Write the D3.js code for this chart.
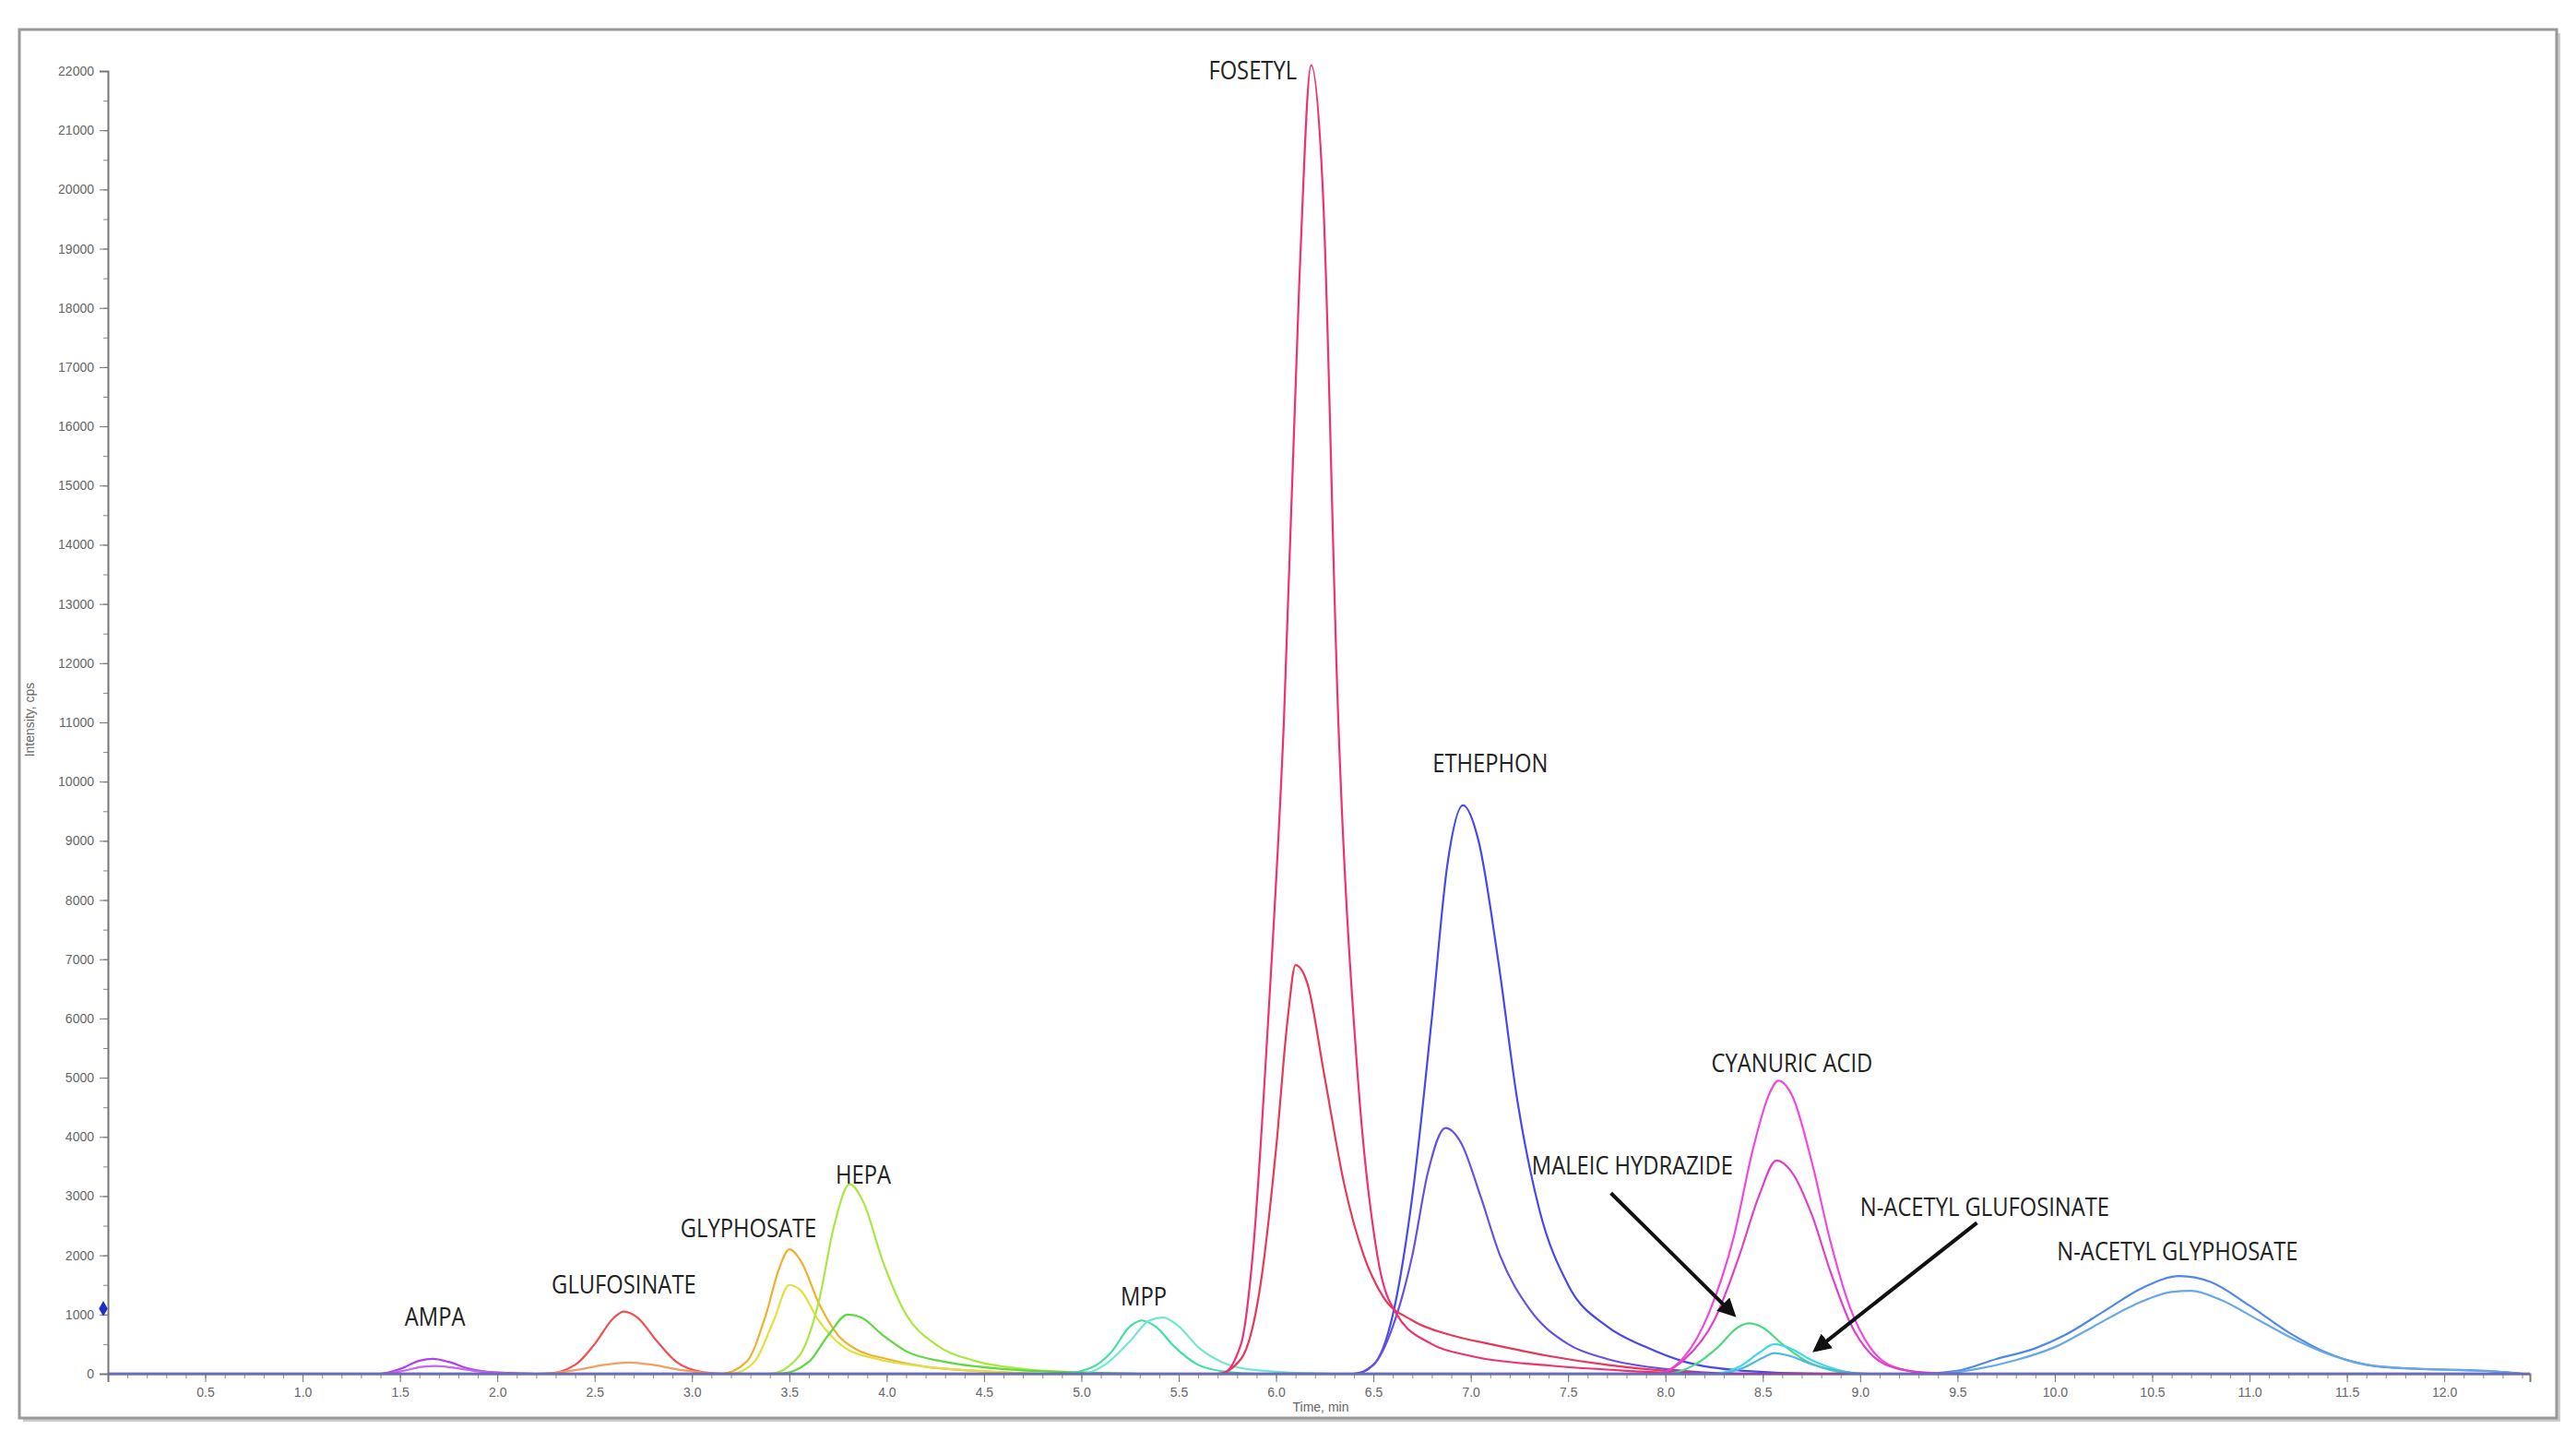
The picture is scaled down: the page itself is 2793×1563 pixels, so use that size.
<!DOCTYPE html>
<html>
<head>
<meta charset="utf-8">
<script src="https://cdn.jsdelivr.net/npm/d3@7"></script>
<style>
  body { margin: 0; background: #fff; }
  .tick text { fill: #666; font-family: "Liberation Sans", Arial, sans-serif; }
  .lbl { font-family: "Open Sans", Arial, sans-serif; font-size: 27px; fill: #222; }
</style>
</head>
<body>
<div id="box"></div>
<script>
const width = 2793, height = 1563;

// peak labels
const labels = ['AMPA', 'GLUFOSINATE', 'GLYPHOSATE', 'HEPA', 'MPP', 'FOSETYL', 'ETHEPHON',
  'MALEIC HYDRAZIDE', 'CYANURIC ACID', 'N-ACETYL GLUFOSINATE', 'N-ACETYL GLYPHOSATE'];
const labelTime = [1.68, 2.65, 3.29, 3.88, 5.32, 5.88, 7.1, 7.83, 8.65, 9.64, 10.63];
const labelValue = [950, 1500, 2450, 3350, 1300, 22000, 10300, 3500, 5230, 2800, 2050];

// traces: [time, cps]
const ampa1 = [[0,0],[1.4,0],[1.5,80],[1.6,220],[1.67,250],[1.75,200],[1.85,90],[2.0,20],[2.2,0],[12.4,0]];
const ampa2 = [[0,0],[1.4,0],[1.52,50],[1.62,120],[1.68,130],[1.78,100],[1.9,40],[2.05,10],[2.2,0],[12.4,0]];
const gluf1 = [[0,0],[2.25,0],[2.4,150],[2.5,500],[2.6,950],[2.65,1050],[2.72,950],[2.82,550],[2.92,200],[3.05,30],[3.15,0],[12.4,0]];
const gluf2 = [[0,0],[2.2,0],[2.4,60],[2.55,150],[2.68,190],[2.8,150],[2.95,60],[3.1,10],[3.2,0],[12.4,0]];
const glyp1 = [[0,0],[3.15,0],[3.28,200],[3.38,1000],[3.45,1800],[3.5,2100],[3.56,1900],[3.65,1200],[3.75,650],[3.85,400],[4.0,250],[4.2,120],[4.5,40],[4.8,0],[12.4,0]];
const glyp2 = [[0,0],[3.2,0],[3.32,200],[3.42,900],[3.5,1500],[3.56,1400],[3.65,900],[3.78,450],[3.95,250],[4.2,120],[4.5,40],[4.8,0],[12.4,0]];
const hepa1 = [[0,0],[3.4,0],[3.55,300],[3.65,1200],[3.73,2500],[3.81,3200],[3.88,2900],[3.98,1900],[4.1,1000],[4.25,500],[4.45,220],[4.7,80],[5.0,20],[5.3,0],[12.4,0]];
const hepa2 = [[0,0],[3.45,0],[3.6,200],[3.7,650],[3.8,1000],[3.87,950],[3.98,650],[4.1,380],[4.3,200],[4.6,80],[5.0,20],[5.3,0],[12.4,0]];
const mpp1 = [[0,0],[4.9,0],[5.05,100],[5.15,350],[5.25,800],[5.31,900],[5.38,800],[5.48,450],[5.6,150],[5.75,30],[5.9,0],[12.4,0]];
const mpp2 = [[0,0],[5.0,0],[5.12,150],[5.25,550],[5.35,900],[5.42,950],[5.5,800],[5.6,450],[5.72,200],[5.9,60],[6.3,0],[12.4,0]];
const fos1 = [[0,0],[5.72,0],[5.82,500],[5.88,2000],[5.96,6000],[6.04,11000],[6.12,18500],[6.18,22100],[6.24,20000],[6.32,11000],[6.42,5000],[6.52,2000],[6.62,1000],[6.8,500],[7.0,300],[7.4,140],[7.8,50],[8.2,0],[12.4,0]];
const fos2 = [[0,0],[5.7,0],[5.82,250],[5.92,1500],[6.0,3800],[6.06,6000],[6.1,6900],[6.16,6600],[6.25,5000],[6.35,3200],[6.45,2000],[6.55,1300],[6.7,900],[6.9,650],[7.1,500],[7.4,300],[7.7,150],[8.0,50],[8.3,0],[12.4,0]];
const eth1 = [[0,0],[6.4,0],[6.5,150],[6.6,1000],[6.7,3000],[6.8,6000],[6.88,8600],[6.96,9600],[7.04,9000],[7.14,7000],[7.24,4600],[7.35,2800],[7.5,1500],[7.7,800],[7.9,450],[8.1,200],[8.4,50],[8.8,0],[12.4,0]];
const eth2 = [[0,0],[6.4,0],[6.5,150],[6.6,800],[6.7,2000],[6.78,3400],[6.87,4150],[6.95,3900],[7.05,3000],[7.15,2000],[7.3,1100],[7.5,500],[7.7,250],[8.0,80],[8.4,0],[12.4,0]];
const cya1 = [[0,0],[7.95,0],[8.1,300],[8.22,1000],[8.35,2300],[8.45,3800],[8.53,4700],[8.58,4950],[8.65,4700],[8.75,3600],[8.85,2200],[8.95,1100],[9.05,450],[9.15,150],[9.3,30],[9.5,0],[12.4,0]];
const cya2 = [[0,0],[7.95,0],[8.1,250],[8.25,900],[8.38,2000],[8.48,3000],[8.57,3600],[8.65,3400],[8.75,2700],[8.85,1700],[8.95,850],[9.05,350],[9.2,80],[9.4,0],[12.4,0]];
const mal = [[0,0],[8.0,0],[8.15,150],[8.27,450],[8.37,780],[8.43,850],[8.5,780],[8.6,500],[8.72,220],[8.85,60],[9.0,0],[12.4,0]];
const nag1 = [[0,0],[8.25,0],[8.38,120],[8.48,350],[8.56,500],[8.64,430],[8.75,230],[8.88,70],[9.0,0],[12.4,0]];
const nag2 = [[0,0],[8.28,0],[8.4,100],[8.5,270],[8.56,350],[8.64,300],[8.75,160],[8.9,40],[9.05,0],[12.4,0]];
const ngl1 = [[0,0],[9.3,0],[9.5,50],[9.7,250],[9.9,430],[10.05,650],[10.25,1050],[10.45,1450],[10.64,1650],[10.8,1550],[11.0,1150],[11.2,700],[11.4,350],[11.6,150],[11.8,90],[12.0,70],[12.25,40],[12.4,0]];
const ngl2 = [[0,0],[9.4,0],[9.6,80],[9.8,230],[10.0,450],[10.2,800],[10.4,1150],[10.6,1380],[10.7,1400],[10.85,1250],[11.05,900],[11.25,550],[11.45,280],[11.65,130],[11.9,80],[12.1,60],[12.3,30],[12.4,0]];

const traces = [
  [ampa1, '#b040f0'], [ampa2, '#c868e8'],
  [gluf1, '#f05050'], [gluf2, '#f0a060'],
  [glyp1, '#f0b030'], [glyp2, '#e0e040'],
  [hepa1, '#a8e840'], [hepa2, '#60d840'],
  [mpp1, '#40e0a0'], [mpp2, '#70e8d0'],
  [ngl1, '#5088e8'], [ngl2, '#68a8e8'],
  [eth1, '#4848f0'], [eth2, '#6a50e0'],
  [fos2, '#e83858'], [fos1, '#f03070'],
  [cya1, '#f048e0'], [cya2, '#e040c8'],
  [mal, '#50d880'], [nag1, '#40d8e8'], [nag2, '#50b8e0']
];

const svg = d3.select('#box').append('svg')
  .attr('width', width).attr('height', height);

// frame
svg.append('rect').attr('x', 25).attr('y', 36).attr('width', 2751).attr('height', 1505)
  .attr('fill', '#ccc');
svg.append('rect').attr('x', 21).attr('y', 32).attr('width', 2751).attr('height', 1505)
  .attr('fill', '#fff').attr('stroke', '#999').attr('stroke-width', 3);

const x = d3.scaleLinear().domain([0, 12.44]).range([117, 2743]);
const y = d3.scaleLinear().domain([0, 22000]).range([1489, 77]);

// minor ticks
svg.append('g').attr('transform', 'translate(0,1489)')
  .call(d3.axisBottom(x).tickValues(d3.range(1, 125).map(d => d / 10)).tickSize(5).tickFormat(''))
  .call(g => g.select('.domain').remove())
  .selectAll('line').attr('stroke', '#888');
svg.append('g').attr('transform', 'translate(117,0)')
  .call(d3.axisLeft(y).tickValues(d3.range(0, 22001, 500)).tickSize(5).tickFormat(''))
  .call(g => g.select('.domain').remove())
  .selectAll('line').attr('stroke', '#888');

const xAxis = svg.append('g').attr('transform', 'translate(0,1489)')
  .call(d3.axisBottom(x).tickValues(d3.range(1, 25).map(d => d / 2)).tickSize(9).tickPadding(6)
    .tickFormat(d3.format('.1f')));
xAxis.select('.domain').attr('stroke', '#777').attr('stroke-width', 2);
xAxis.selectAll('line').attr('stroke', '#777');
xAxis.selectAll('text').attr('font-size', 14);

const yAxis = svg.append('g').attr('transform', 'translate(117,0)')
  .call(d3.axisLeft(y).tickValues(d3.range(0, 22001, 1000)).tickSize(9).tickPadding(6)
    .tickFormat(d3.format('d')));
yAxis.select('.domain').attr('stroke', '#777').attr('stroke-width', 2);
yAxis.selectAll('line').attr('stroke', '#777');
yAxis.selectAll('text').attr('font-size', 14);

svg.append('text').attr('transform', 'translate(37,780) rotate(-90)')
  .attr('text-anchor', 'middle').attr('font-size', 14).attr('fill', '#666')
  .attr('font-family', 'Liberation Sans, Arial').text('Intensity, cps');
svg.append('text').attr('x', 1432).attr('y', 1530)
  .attr('text-anchor', 'middle').attr('font-size', 14).attr('fill', '#666')
  .attr('font-family', 'Liberation Sans, Arial').text('Time, min');

const line = d3.line().x(d => x(d[0])).y(d => y(d[1])).curve(d3.curveMonotoneX);

svg.append('g').selectAll('path').data(traces).join('path')
  .attr('d', d => line(d[0]))
  .attr('fill', 'none')
  .attr('stroke', d => d[1])
  .attr('stroke-width', 2.2);

// baseline overlay
svg.append('line').attr('x1', x(0)).attr('x2', x(12.44)).attr('y1', y(0)).attr('y2', y(0))
  .attr('stroke', '#7050b0').attr('stroke-width', 3).attr('opacity', 0.7);

// marker on y axis
svg.append('path').attr('d', d3.symbol(d3.symbolDiamond, 80)())
  .attr('transform', `translate(112,${y(1100)})`).attr('fill', '#2030c0');

// condensed peak labels
svg.append('g').selectAll('text').data(labels).join('text')
  .attr('class', 'lbl')
  .attr('text-anchor', 'middle')
  .attr('transform', (d, i) => `translate(${x(labelTime[i])},${y(labelValue[i]) + 9}) scale(0.88,1)`)
  .text(d => d);

// arrows
const defs = svg.append('defs');
defs.append('marker').attr('id', 'ah').attr('viewBox', '0 0 10 10').attr('refX', 8).attr('refY', 5)
  .attr('markerWidth', 5).attr('markerHeight', 5).attr('orient', 'auto')
  .append('path').attr('d', 'M0,0L10,5L0,10z').attr('fill', '#111');
const arrows = [[7.72, 3050, 8.35, 1000], [9.6, 2550, 8.77, 400]];
svg.append('g').selectAll('line').data(arrows).join('line')
  .attr('x1', d => x(d[0])).attr('y1', d => y(d[1]))
  .attr('x2', d => x(d[2])).attr('y2', d => y(d[3]))
  .attr('stroke', '#111').attr('stroke-width', 4).attr('marker-end', 'url(#ah)');
</script>
</body>
</html>
